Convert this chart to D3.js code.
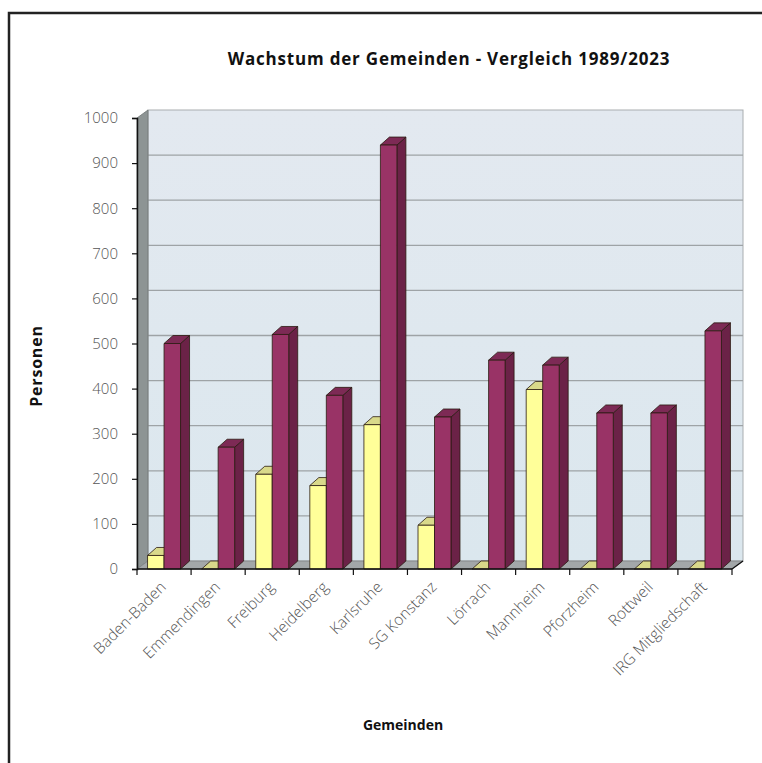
<!DOCTYPE html>
<html><head><meta charset="utf-8">
<script src="https://cdn.jsdelivr.net/npm/d3@7"></script>
<style>
html,body{margin:0;padding:0;background:#fff;}
svg{display:block;}
text{font-family:"Open Sans","DejaVu Sans",sans-serif;-webkit-font-smoothing:antialiased;}
</style></head>
<body>
<script>
const categories = ["Baden-Baden","Emmendingen","Freiburg","Heidelberg","Karlsruhe","SG Konstanz","Lörrach","Mannheim","Pforzheim","Rottweil","IRG Mitgliedschaft"];
const series1989 = [30, 0, 210, 185, 320, 97, 0, 398, 0, 0, 0];
const series2023 = [500, 270, 520, 385, 940, 337, 463, 452, 346, 346, 528];
const yTicks = [0,100,200,300,400,500,600,700,800,900,1000];
const chartTitle = "Wachstum der Gemeinden - Vergleich 1989/2023";
const yTitle = "Personen";
const xTitle = "Gemeinden";

(function(){
const W = 762, H = 763;
const pLeft = 137, pRight = 732, pTop = 118, pBottom = 569;
const wallDx = 11, wallDy = -8;   // back wall offset
const barDx = 9, barDy = -8;      // bar depth offset

const svg = d3.select("body").append("svg").attr("width", W).attr("height", H);

// frame
svg.append("path").attr("d", `M9,${H} L9,13 L${W},13`).attr("fill","none").attr("stroke","#222").attr("stroke-width",2.5);

const x = d3.scaleBand().domain(categories).range([pLeft, pRight]).padding(0);
const xs = d3.scaleBand().domain(["s1989","s2023"]).range([0, x.bandwidth()]).paddingInner(0).paddingOuter(0.64);
const y = d3.scaleLinear().domain([0, 1000]).range([pBottom, pTop]);

const defs = svg.append("defs");
const g1 = defs.append("linearGradient").attr("id","wall").attr("x1",0).attr("y1",0).attr("x2",0).attr("y2",1);
g1.append("stop").attr("offset","0%").attr("stop-color","#e3e9f0");
g1.append("stop").attr("offset","100%").attr("stop-color","#dbe7ee");

// back wall
svg.append("rect").attr("x", pLeft+wallDx).attr("y", y(1000)+wallDy)
  .attr("width", pRight-pLeft).attr("height", y(0)-y(1000))
  .attr("fill","url(#wall)").attr("stroke","#a9adb0").attr("stroke-width",1);

// gridlines on back wall
svg.append("g").selectAll("line").data(yTicks.filter(t=>t>0 && t<1000)).join("line")
  .attr("x1", pLeft+wallDx).attr("x2", pRight+wallDx)
  .attr("y1", d=>y(d)+wallDy).attr("y2", d=>y(d)+wallDy)
  .attr("stroke","#9ea3a6").attr("stroke-width",1.3);

// left side wall
svg.append("path")
  .attr("d", `M${pLeft},${y(0)} L${pLeft},${y(1000)} L${pLeft+wallDx},${y(1000)+wallDy} L${pLeft+wallDx},${y(0)+wallDy} Z`)
  .attr("fill","#8d9494").attr("stroke","#6f7575").attr("stroke-width",0.8);

// floor
svg.append("path")
  .attr("d", `M${pLeft},${y(0)} L${pLeft+wallDx},${y(0)+wallDy} L${pRight+wallDx},${y(0)+wallDy} L${pRight},${y(0)} Z`)
  .attr("fill","#a3a7a9").attr("stroke","#7d8284").attr("stroke-width",0.8);

// bars
const colors = {
  s1989: {front:"#ffff99", side:"#c9c97a", top:"#d9d98a"},
  s2023: {front:"#993366", side:"#6b2247", top:"#7d2a55"}
};
const barsG = svg.append("g");
categories.forEach((c,i) => {
  [["s1989", series1989[i]], ["s2023", series2023[i]]].forEach(([k,v]) => {
    const x0 = x(c) + xs(k), w = xs.bandwidth();
    const yt = y(v), yb = y(0);
    const col = colors[k];
    const gg = barsG.append("g").attr("stroke","#2a1a10").attr("stroke-width",0.8).attr("stroke-linejoin","round");
    gg.append("path").attr("d", `M${x0+w},${yb} L${x0+w+barDx},${yb+barDy} L${x0+w+barDx},${yt+barDy} L${x0+w},${yt} Z`).attr("fill", col.side);
    gg.append("path").attr("d", `M${x0},${yt} L${x0+barDx},${yt+barDy} L${x0+w+barDx},${yt+barDy} L${x0+w},${yt} Z`).attr("fill", col.top);
    if (v > 0) gg.append("rect").attr("x", x0).attr("y", yt).attr("width", w).attr("height", yb-yt).attr("fill", col.front);
  });
});

// y axis
const yAxis = d3.axisLeft(y).tickValues(yTicks).tickSize(5).tickPadding(14).tickFormat(d3.format("d"));
const ya = svg.append("g").attr("transform", `translate(${pLeft},0)`).call(yAxis);
ya.select(".domain").attr("stroke","#111").attr("stroke-width",1.5);
ya.selectAll(".tick line").attr("stroke","#111").attr("stroke-width",1.2);
ya.selectAll(".tick text").attr("fill","#555").attr("font-size",15).attr("font-weight",300);

// x axis baseline and ticks at category boundaries
svg.append("line").attr("x1",pLeft).attr("x2",pRight).attr("y1",y(0)).attr("y2",y(0)).attr("stroke","#111").attr("stroke-width",1.5);
svg.append("line").attr("x1",pRight).attr("x2",pRight+wallDx).attr("y1",y(0)).attr("y2",y(0)+wallDy).attr("stroke","#111").attr("stroke-width",1.2);
const bounds = categories.map(c=>x(c)).concat([pRight]);
svg.append("g").selectAll("line").data(bounds).join("line")
  .attr("x1",d=>d).attr("x2",d=>d).attr("y1",y(0)).attr("y2",y(0)+6)
  .attr("stroke","#111").attr("stroke-width",1.2);

// x labels
svg.append("g").selectAll("text").data(categories).join("text")
  .attr("transform", d=>`translate(${x(d)+x.bandwidth()/2+3},${y(0)+19}) rotate(-45)`)
  .attr("text-anchor","end").attr("fill","#555").attr("font-size",15.5).attr("font-weight",300)
  .text(d=>d);

// titles
svg.append("text").attr("x",449).attr("y",65).attr("text-anchor","middle")
  .attr("font-size",17).attr("font-weight",700).attr("letter-spacing",0.8).attr("fill","#111").text(chartTitle);
svg.append("text").attr("transform","translate(42,366) rotate(-90)").attr("text-anchor","middle")
  .attr("font-size",16).attr("font-weight",700).attr("letter-spacing",0.8).attr("fill","#111").text(yTitle);
svg.append("text").attr("x",403).attr("y",730).attr("text-anchor","middle")
  .attr("font-size",14).attr("font-weight",700).attr("fill","#111").text(xTitle);
})();
</script>
</body></html>
